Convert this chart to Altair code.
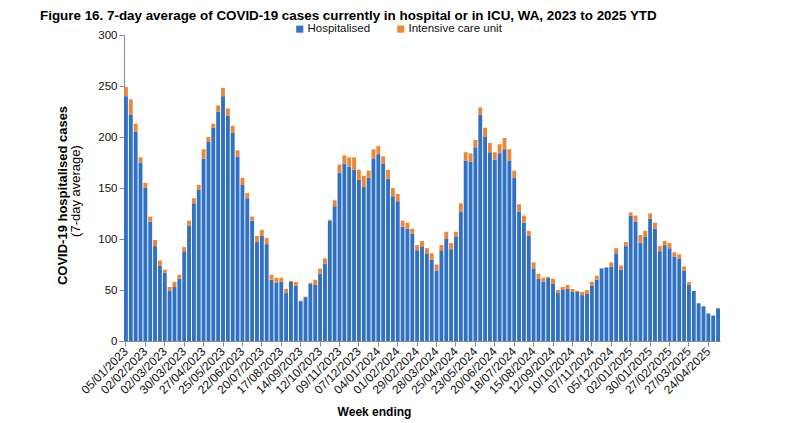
import altair as alt
import pandas as pd

hospitalised = [
    240, 222, 205, 175, 150, 117, 93, 74, 67, 49, 53, 61, 88, 113, 135, 148, 179, 195, 209, 225,
    240, 221, 204, 181, 153, 140, 118, 97, 103, 95, 60, 57, 58, 47, 58, 54, 39, 43, 56, 55,
    66, 76, 118, 132, 165, 174, 171, 168, 158, 151, 160, 179, 183, 174, 159, 142, 137, 112, 110, 105,
    89, 93, 86, 80, 69, 89, 100, 90, 102, 127, 177, 176, 190, 222, 200, 185, 178, 184, 188, 177,
    160, 127, 116, 103, 71, 61, 58, 62, 56, 47, 50, 51, 48, 48, 45, 46, 54, 60, 71, 72,
    73, 86, 70, 93, 123, 117, 96, 102, 120, 110, 88, 94, 91, 83, 81, 69, 55, 49, 37, 34,
    27, 25, 32,
]
icu = [
    9, 15, 8, 5, 5, 5, 6, 5, 3, 4, 5, 4, 4, 5, 5, 5, 9, 5, 4, 6,
    8, 7, 7, 6, 7, 5, 4, 6, 6, 6, 5, 5, 4, 4, 1, 4, 0.5, 0.5, 1, 5,
    5, 5, 1, 6, 8, 8, 9, 12, 10, 11, 7, 9, 8, 7, 9, 8, 7, 6, 6, 5,
    5, 5, 5, 6, 6, 5, 7, 6, 5, 8, 8, 8, 7, 7, 9, 9, 7, 9, 11, 11,
    7, 7, 7, 5, 6, 5, 4, 1, 5, 3, 3, 4, 3, 1, 3, 4, 4, 4, 0.5, 0.5,
    4, 5, 4, 4, 3, 6, 8, 6, 5, 6, 5, 4, 5, 4, 4, 4, 3, 0, 0, 0,
    0, 0, 0,
]
weeks = pd.date_range("2023-01-05", periods=len(hospitalised), freq="7D").strftime("%d/%m/%Y").tolist()
series_names = ["Hospitalised", "Intensive care unit"]
colors = ["#3071C4", "#EE8636"]
y_ticks = [0, 50, 100, 150, 200, 250, 300]

rows = []
for w, h, i in zip(weeks, hospitalised, icu):
    rows.append({"week": w, "series": series_names[0], "value": h, "ord": 0})
    rows.append({"week": w, "series": series_names[1], "value": i, "ord": 1})
df = pd.DataFrame(rows)

FONT = "Liberation Sans, Arial, sans-serif"

bars = alt.Chart(df).mark_bar().encode(
    x=alt.X(
        "week:N",
        sort=weeks,
        scale=alt.Scale(paddingInner=0.2, paddingOuter=0),
        axis=alt.Axis(
            values=weeks[::4],
            labelAngle=-45,
            labelAlign="right",
            labelBaseline="middle",
            labelFontSize=12,
            labelColor="#111111",
            labelFont=FONT,
            labelPadding=3,
            tickSize=5,
            tickColor="#8c8c8c",
            domainColor="#8c8c8c",
            title="Week ending",
            titleFont=FONT,
            titleFontSize=12,
            titleFontWeight="bold",
            titleColor="#000000",
            titleX=250,
            titleY=70,
            titleAlign="center",
            titleBaseline="middle",
        ),
    ),
    y=alt.Y(
        "value:Q",
        stack="zero",
        scale=alt.Scale(domain=[0, 300]),
        axis=alt.Axis(
            values=y_ticks,
            grid=False,
            labelFontSize=11.5,
            labelColor="#111111",
            labelFont=FONT,
            tickSize=5,
            tickColor="#8c8c8c",
            domainColor="#8c8c8c",
            title="COVID-19 hospitalised  cases",
            titleFont=FONT,
            titleFontSize=13,
            titleFontWeight="bold",
            titleColor="#000000",
            titleX=-62,
            titleY=160,
            titleAngle=270,
            titleAlign="center",
            titleBaseline="middle",
        ),
    ),
    color=alt.Color(
        "series:N",
        scale=alt.Scale(domain=series_names, range=colors),
        legend=alt.Legend(
            orient="none",
            legendX=170,
            legendY=-12,
            direction="horizontal",
            title=None,
            symbolType="square",
            symbolSize=50,
            symbolStrokeWidth=0,
            labelFontSize=11.5,
            labelFont=FONT,
            labelColor="#111111",
            columnPadding=24,
            labelOffset=2,
        ),
    ),
    order=alt.Order("ord:Q"),
)

subtitle = alt.Chart(pd.DataFrame({"t": ["(7-day average)"]})).mark_text(
    angle=270, fontSize=13, font=FONT, color="#000000", align="center", baseline="middle"
).encode(text="t:N", x=alt.value(-48), y=alt.value(156))

chart = alt.layer(bars, subtitle).properties(
    width=596,
    height=306,
    title=alt.TitleParams(
        "Figure 16. 7-day average of COVID-19 cases currently in hospital or in ICU, WA, 2023 to 2025 YTD",
        anchor="start",
        frame="group",
        font=FONT,
        fontSize=13.4,
        fontWeight="bold",
        color="#000000",
        dx=-84,
        dy=3.5,
    ),
    padding={"left": 116, "top": 27, "right": 72, "bottom": 78},
    autosize=alt.AutoSizeParams(type="none"),
).configure_view(stroke=None)

chart.save("out.html", embed_options={"renderer": "svg", "actions": False})
